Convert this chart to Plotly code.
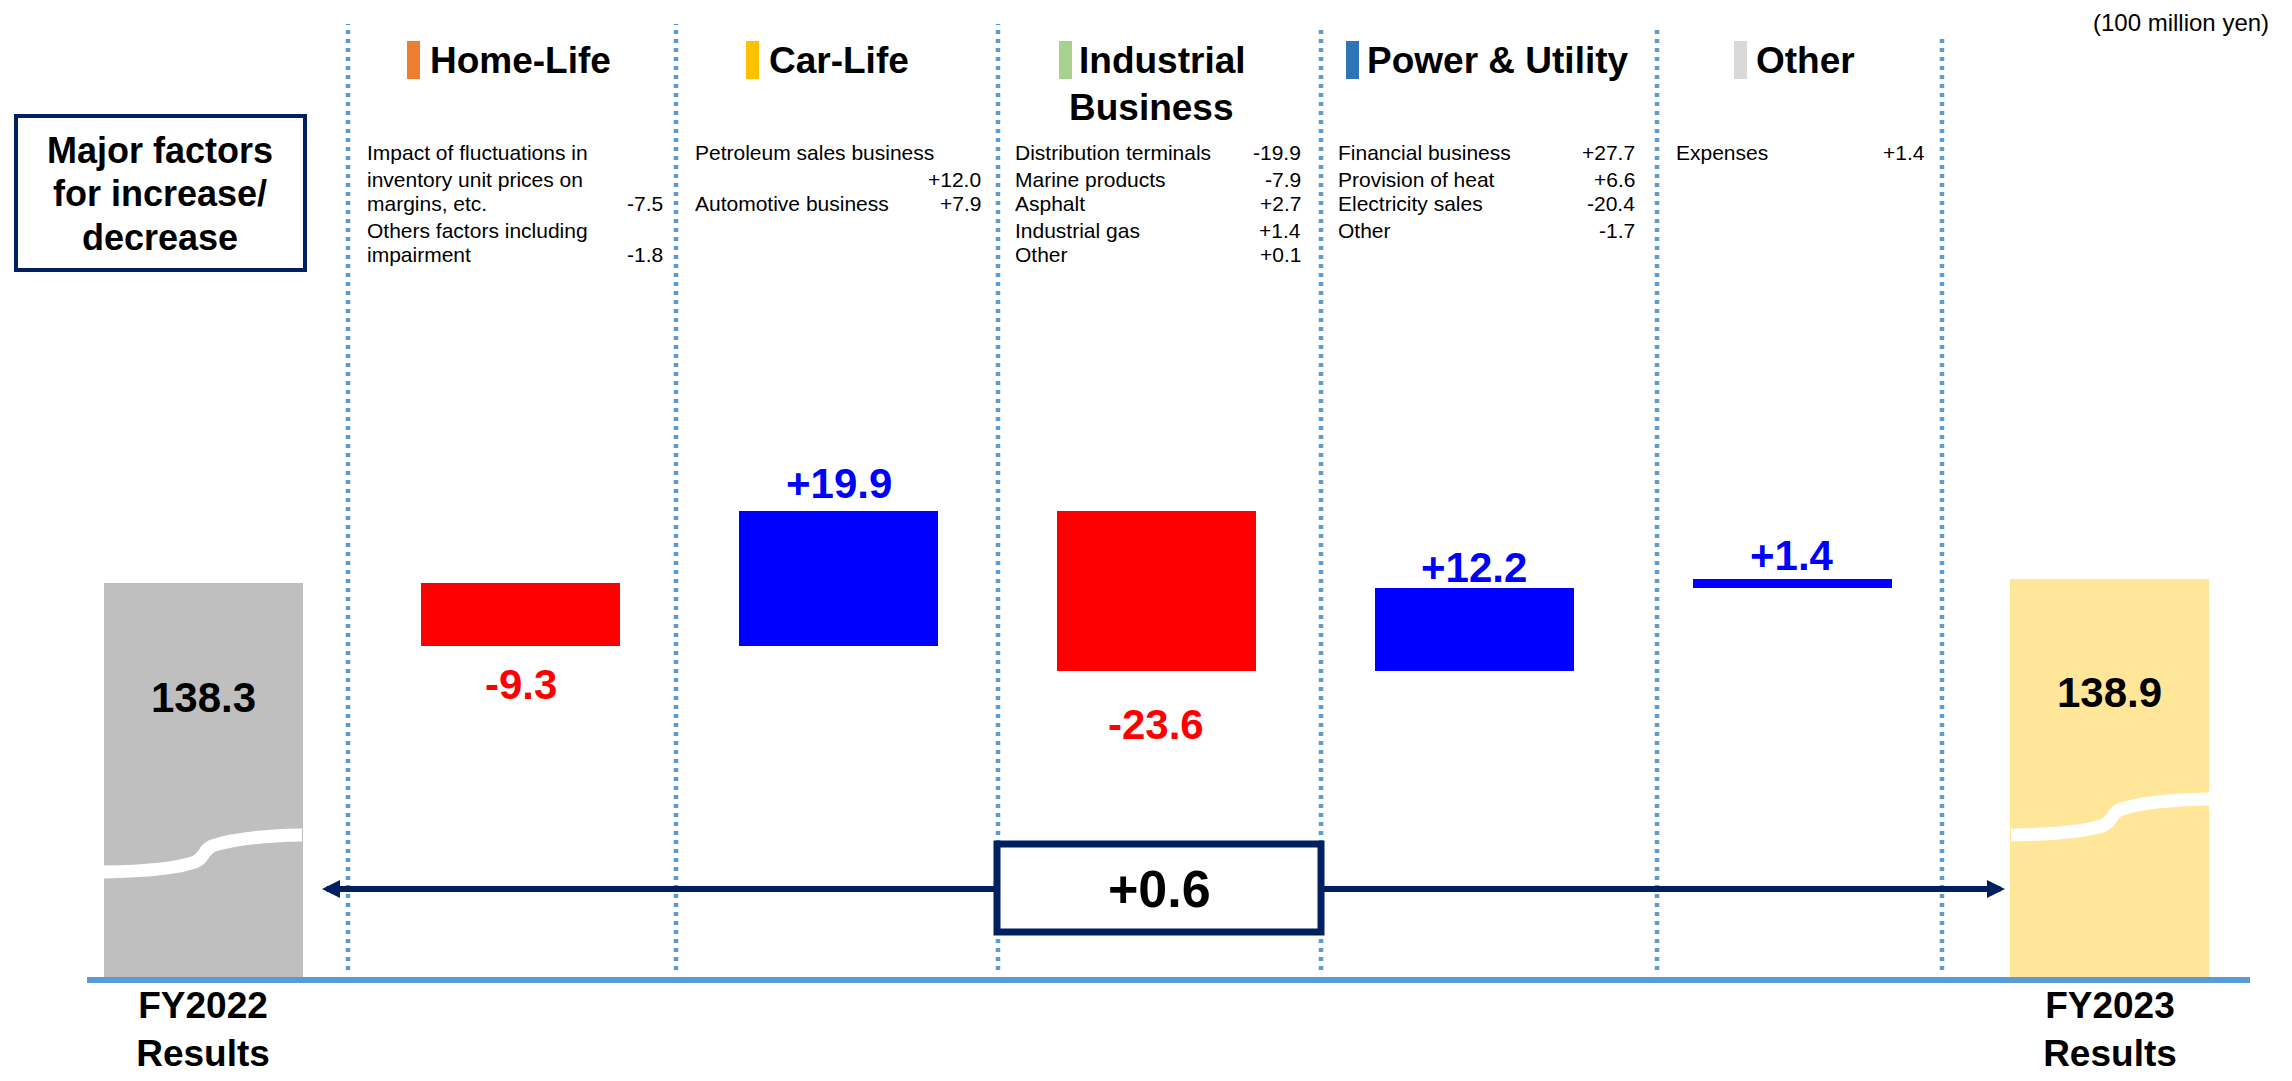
import numpy as np
import plotly.graph_objects as go

# ---------------- data ----------------
start_label = "FY2022<br>Results"
end_label = "FY2023<br>Results"
start_value = 138.3
end_value = 138.9
segments = ["Home-Life", "Car-Life", "Industrial<br>Business", "Power & Utility", "Other"]
deltas = [-9.3, 19.9, -23.6, 12.2, 1.4]
total_change = "+0.6"
axis_cut = 80.0          # broken value axis starts here
unit_text = "(100 million yen)"

factor_items = [
    ["Impact of fluctuations in", "inventory unit prices on", "margins, etc.",
     "Others factors including", "impairment"],
    ["Petroleum sales business", "", "Automotive business"],
    ["Distribution terminals", "Marine products", "Asphalt", "Industrial gas", "Other"],
    ["Financial business", "Provision of heat", "Electricity sales", "Other"],
    ["Expenses"],
]
factor_values = [
    ["", "", "-7.5", "", "-1.8"],
    ["", "+12.0", "+7.9"],
    ["-19.9", "-7.9", "+2.7", "+1.4", "+0.1"],
    ["+27.7", "+6.6", "-20.4", "-1.7"],
    ["+1.4"],
]

# ---------------- styling / geometry ----------------
FONT = "Liberation Sans, Arial, sans-serif"
NAVY = "#002060"
SEP = "#5B9BD5"
seg_colors = ["#ED7D31", "#FFC000", "#A9D18E", "#2E75B6", "#D9D9D9"]
OFF = 8                      # default page margin around the figure
W, H = 2292 - 2 * OFF, 1081 - 2 * OFF
BASE_PX = 980                # screen px of baseline
PH = BASE_PX - OFF           # plot-area height
MB = H - PH
S = 317.83                   # px per category step
X0PX = 203                   # screen px centre of first bar
K = 6.76                     # px per value unit
YREFPX = 583                 # screen px of start_value

def dx(p):   # screen pixel x -> data x
    return (p - X0PX) / S

def dy(p):   # screen pixel y -> data y
    return start_value - (p - YREFPX) / K

def px_(p):  # screen pixel x -> paper
    return (p - OFF) / W

def py_(p):  # screen pixel y -> paper
    return 1 - (p - OFF) / PH

# ---------------- bars ----------------
d = np.array(deltas)
levels = start_value + np.cumsum(d)
prev = np.concatenate([[start_value], levels[:-1]])
lows = np.minimum(prev, levels)
highs = np.maximum(prev, levels)

xpos = list(range(len(deltas) + 2))
heights = [start_value - axis_cut] + list(np.abs(d)) + [end_value - axis_cut]
bases = [axis_cut] + list(lows) + [axis_cut]
colors = ["#BFBFBF"] + ["#0000FF" if v > 0 else "#FF0000" for v in deltas] + ["#FFE699"]
names = ["FY2022 Results"] + [s.replace("<br>", " ") for s in segments] + ["FY2023 Results"]

fig = go.Figure(go.Bar(
    x=xpos, y=heights, base=bases, width=199 / S,
    marker=dict(color=colors, line=dict(width=0)),
    hovertext=names, hoverinfo="text", showlegend=False,
))

annotations = []
shapes = []

# delta labels
label_off = [39, 28, 54, 21, 23]
for i, v in enumerate(deltas):
    pos = v > 0
    annotations.append(dict(
        x=i + 1, y=highs[i] if pos else lows[i], xref="x", yref="y",
        text=f"<b>{v:+.1f}</b>", showarrow=False, xanchor="center", yanchor="middle",
        yshift=label_off[i] if pos else -label_off[i],
        font=dict(family=FONT, size=42, color="#0000FF" if pos else "#FF0000")))

# total labels
for xi, val in [(0, start_value), (len(xpos) - 1, end_value)]:
    annotations.append(dict(x=xi, y=val, xref="x", yref="y", text=f"<b>{val:.1f}</b>",
                            showarrow=False, xanchor="center", yanchor="middle", yshift=-114,
                            font=dict(family=FONT, size=42, color="black")))

# axis-break curves
def break_path(left_px, ypx_left, ypx_right):
    L = left_px
    yl, yr = ypx_left, ypx_right
    m = (yl + yr) / 2
    pts = [
        ("M", [(L, yl)]),
        ("Q", [(L + 67, yl - 1), (L + 92, m + 8.5)]),
        ("C", [(L + 102, m + 4.5), (L + 100, m - 3.5), (L + 109, m - 7.5)]),
        ("Q", [(L + 137, yr + 1), (L + 199, yr)]),
    ]
    s = ""
    for cmd, ps in pts:
        s += cmd + " ".join(f"{dx(a):.5f},{dy(b):.4f}" for a, b in ps)
    return s

for L, yl, yr in [(103, 872, 835), (2011, 835, 799)]:
    shapes.append(dict(type="path", xref="x", yref="y", path=break_path(L, yl, yr),
                       line=dict(color="white", width=13), fillcolor="rgba(0,0,0,0)"))

# dotted separators
for xs, top in [(348, 24), (676, 24), (998, 24), (1321, 28), (1657, 27), (1942, 35)]:
    shapes.append(dict(type="line", xref="paper", yref="paper",
                       x0=px_(xs), x1=px_(xs), y0=py_(970), y1=py_(top),
                       line=dict(color=SEP, width=4.5, dash="4px,5px")))

# baseline
shapes.append(dict(type="line", xref="paper", yref="paper", x0=px_(87), x1=px_(2250),
                   y0=py_(BASE_PX), y1=py_(BASE_PX), line=dict(color=SEP, width=6)))

# total-change box and arrows
ay = dy(889)
annotations.append(dict(x=dx(322), y=ay, ax=dx(997), ay=ay, xref="x", yref="y",
                        axref="x", ayref="y", text="", showarrow=True, arrowhead=2,
                        arrowsize=0.6, arrowwidth=6, arrowcolor=NAVY, standoff=0))
annotations.append(dict(x=dx(2005), y=ay, ax=dx(1321), ay=ay, xref="x", yref="y",
                        axref="x", ayref="y", text="", showarrow=True, arrowhead=2,
                        arrowsize=0.6, arrowwidth=6, arrowcolor=NAVY, standoff=0))
shapes.append(dict(type="rect", xref="paper", yref="paper", x0=px_(997), x1=px_(1321),
                   y0=py_(932), y1=py_(844), line=dict(color=NAVY, width=7),
                   fillcolor="white"))
annotations.append(dict(x=px_(1159), y=py_(889), xref="paper", yref="paper",
                        xanchor="center", yanchor="middle",
                        text=f"<b>{total_change}</b>", showarrow=False,
                        font=dict(family=FONT, size=52, color="black")))

# segment headers
header_text_x = [428, 767, 1077, 1365, 1754]
marker_x = [407, 746, 1059, 1346, 1734]
for i, seg in enumerate(segments):
    first = seg.split("<br>")[0]
    annotations.append(dict(x=px_(header_text_x[i]), y=py_(61), xref="paper", yref="paper",
                            xanchor="left", yanchor="middle", text=f"<b>{first}</b>",
                            showarrow=False, font=dict(family=FONT, size=37, color="black")))
    if "<br>" in seg:
        second = seg.split("<br>")[1]
        annotations.append(dict(x=px_(1151), y=py_(107), xref="paper", yref="paper",
                                xanchor="center", yanchor="middle", text=f"<b>{second}</b>",
                                showarrow=False, font=dict(family=FONT, size=37, color="black")))
    shapes.append(dict(type="rect", xref="paper", yref="paper",
                       x0=px_(marker_x[i]), x1=px_(marker_x[i] + 13),
                       y0=py_(79), y1=py_(41), line=dict(width=0),
                       fillcolor=seg_colors[i]))

# factor details
col_left = [365, 693, 1013, 1336, 1674]
col_right = [665, 983, 1303, 1637, 1927]
line_y = [152, 179, 204, 230, 255]
for c in range(len(factor_items)):
    for r, (txt, val) in enumerate(zip(factor_items[c], factor_values[c])):
        if txt:
            annotations.append(dict(x=px_(col_left[c]), y=py_(line_y[r]), xref="paper",
                                    yref="paper", xanchor="left", yanchor="middle",
                                    text=txt, showarrow=False,
                                    font=dict(family=FONT, size=21, color="black")))
        if val:
            annotations.append(dict(x=px_(col_right[c]), y=py_(line_y[r]), xref="paper",
                                    yref="paper", xanchor="right", yanchor="middle",
                                    text=val, showarrow=False,
                                    font=dict(family=FONT, size=21, color="black")))

# "Major factors" box
shapes.append(dict(type="rect", xref="paper", yref="paper", x0=px_(16), x1=px_(305),
                   y0=py_(270), y1=py_(116), line=dict(color=NAVY, width=4),
                   fillcolor="white"))
for t, yy in [("Major factors", 150), ("for increase/", 194), ("decrease", 238)]:
    annotations.append(dict(x=px_(160), y=py_(yy), xref="paper", yref="paper",
                            text=f"<b>{t}</b>", showarrow=False,
                            xanchor="center", yanchor="middle",
                            font=dict(family=FONT, size=36, color="black")))

# unit
annotations.append(dict(x=px_(2271), y=py_(23), xref="paper", yref="paper",
                        xanchor="right", yanchor="middle", text=unit_text,
                        showarrow=False, font=dict(family=FONT, size=24, color="black")))

fig.update_layout(
    width=W, height=H,
    margin=dict(l=0, r=0, t=0, b=MB),
    paper_bgcolor="white", plot_bgcolor="white",
    shapes=shapes, annotations=annotations,
    xaxis=dict(range=[dx(OFF), dx(OFF + W)], tickvals=[0, len(xpos) - 1],
               ticktext=[start_label, end_label], ticks="", showgrid=False,
               zeroline=False, showline=False, automargin=False, ticklabelstandoff=0,
               tickfont=dict(family=FONT, size=37, color="black", weight="bold")),
    yaxis=dict(range=[dy(BASE_PX), dy(OFF)], visible=False, showgrid=False, zeroline=False),
    bargap=0,
)

fig.write_html("out.html")
